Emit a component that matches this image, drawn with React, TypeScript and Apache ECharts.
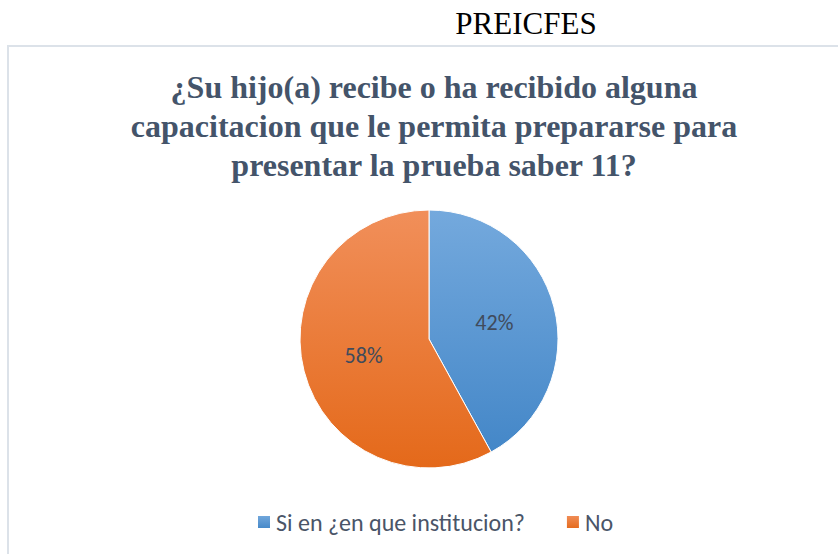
import React, { useEffect, useRef } from "react";
import * as echarts from "echarts";

const categories: string[] = ["Si en ¿en que institucion?", "No"];
const values: number[] = [42, 58];
const headerText = "PREICFES";
const titleText = "¿Su hijo(a) recibe o ha recibido alguna\ncapacitacion que le permita prepararse para\npresentar la prueba saber 11?";

const grad = (top: string, bottom: string) =>
  new echarts.graphic.LinearGradient(0, 0, 0, 1, [
    { offset: 0, color: top },
    { offset: 1, color: bottom },
  ]);

const SERIF = "'Liberation Serif', 'Times New Roman', Times, serif";
const SANS = "Carlito, Lato, sans-serif";

export default function App() {
  const ref = useRef<HTMLDivElement>(null);
  useEffect(() => {
    if (!ref.current) return;
    const chart = echarts.init(ref.current, undefined, { renderer: "svg" });
    const colors = [grad("#74a9dd", "#4487c8"), grad("#f18f5a", "#e4691a")];
    chart.setOption({
      animation: false,
      backgroundColor: "#ffffff",
      graphic: [
        {
          type: "rect",
          shape: { x: 8, y: 46, width: 900, height: 600 },
          style: { fill: "none", stroke: "#dce2e9", lineWidth: 2 },
          silent: true,
        },
      ],
      title: [
        {
          text: headerText,
          left: 521,
          textAlign: "center",
          top: 3,
          textStyle: {
            fontFamily: SERIF,
            fontSize: 31,
            fontWeight: "normal",
            color: "#000000",
          },
        },
        {
          text: titleText,
          left: 429,
          textAlign: "center",
          top: 62,
          textStyle: {
            fontFamily: SERIF,
            fontSize: 32,
            fontWeight: 700,
            color: "#44546a",
            lineHeight: 39,
          },
        },
      ],
      legend: {
        data: categories,
        left: 251,
        top: 505,
        orient: "horizontal",
        itemWidth: 14,
        itemHeight: 14,
        itemGap: 40,
        icon: "rect",
        textStyle: {
          fontFamily: SANS,
          fontSize: 24,
          color: "#4a5568",
        },
      },
      series: [
        {
          type: "pie",
          center: [429, 339],
          radius: [0, 129],
          startAngle: 90,
          clockwise: true,
          data: categories.map((c, i) => ({
            name: c,
            value: values[i],
            itemStyle: { color: colors[i] },
          })),
          itemStyle: { borderColor: "#ffffff", borderWidth: 1 },
          label: {
            show: true,
            position: "inside",
            formatter: "{d}%",
            fontFamily: SANS,
            fontSize: 22,
            color: "#404b5c",
          },
          labelLine: { show: false },
          emphasis: { disabled: true },
        },
      ],
    });
    return () => chart.dispose();
  }, []);
  return (
    <div
      ref={ref}
      style={{ position: "absolute", left: 0, top: 0, width: 838, height: 554 }}
    />
  );
}
